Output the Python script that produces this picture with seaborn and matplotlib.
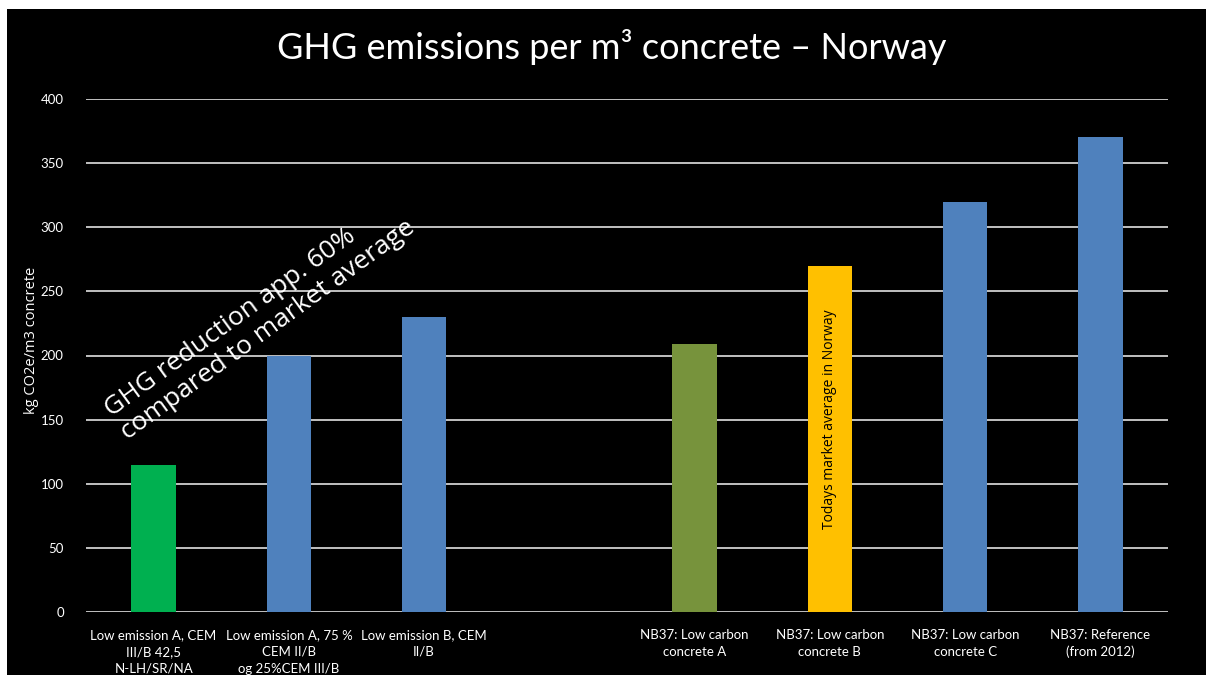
import matplotlib
matplotlib.use("Agg")
import matplotlib.pyplot as plt
from matplotlib.patches import Rectangle
import seaborn as sns
import pandas as pd

# Data
categories = [
    "Low emission A, CEM\nIII/B 42,5\nN-LH/SR/NA",
    "Low emission A, 75 %\nCEM II/B\nog 25%CEM III/B",
    "Low emission B, CEM\nII/B",
    " ",
    "NB37: Low carbon\nconcrete A",
    "NB37: Low carbon\nconcrete B",
    "NB37: Low carbon\nconcrete C",
    "NB37: Reference\n(from 2012)",
]
values = [115, 200, 230, None, 209, 270, 320, 370]
bar_colors = ["#00B050", "#4F81BD", "#4F81BD", "#000000",
              "#77933C", "#FFC000", "#4F81BD", "#4F81BD"]
y_ticks = [0, 50, 100, 150, 200, 250, 300, 350, 400]

df = pd.DataFrame({"category": categories, "value": values})
plotted = df.dropna()

sns.set_style("dark")
plt.rcParams["font.family"] = ["Lato", "DejaVu Sans"]
plt.rcParams["text.color"] = "white"

fig = plt.figure(figsize=(12.06, 6.75), dpi=100, facecolor="white")
# Black slide background with thin white margin at top and left
fig.patches.append(Rectangle((7 / 1206, 0), 1, 1 - 9 / 675,
                             transform=fig.transFigure, facecolor="black",
                             edgecolor="none", zorder=-10))

ax = fig.add_axes([86 / 1206, 1 - 612 / 675, (1168 - 86) / 1206, (612 - 99) / 675])
ax.set_facecolor("black")

palette = dict(zip(categories, bar_colors))
sns.barplot(data=plotted, x="category", y="value", hue="category",
            order=categories, palette=palette, width=0.33, saturation=1,
            linewidth=0, edgecolor="none",
            legend=False, ax=ax, zorder=3)

ax.set_ylim(0, 400)
ax.set_xlim(-0.5, len(categories) - 0.5)
ax.set_yticks(y_ticks)
ax.yaxis.grid(True, color="#D0D0D0", linewidth=1.3, zorder=0)
ax.xaxis.grid(False)
for s in ax.spines.values():
    s.set_visible(False)

ax.tick_params(axis="y", length=0, pad=16, labelsize=9.5, labelcolor="white")
ax.tick_params(axis="x", length=0, pad=12, labelsize=9.5, labelcolor="white")
for lbl in ax.get_xticklabels():
    lbl.set_linespacing(1.5)
    lbl.set_verticalalignment("top")

ax.set_xlabel("")
ax.set_ylabel("kg CO2e/m3 concrete", color="white", fontsize=10.5,
              family=["Open Sans", "DejaVu Sans"])
ax.yaxis.set_label_coords(-0.043, 0.53)

fig.text(612 / 1206, 1 - 47 / 675, "GHG emissions per m³ concrete – Norway",
         ha="center", va="center", color="white", fontsize=26)

# Annotation for low-emission group
ax.text(0.787, 229, "GHG reduction app. 60%\ncompared to market average",
        rotation=36, rotation_mode="anchor", ha="center", va="center",
        multialignment="left", linespacing=1.15,
        color="white", fontsize=19, family=["Open Sans", "DejaVu Sans"],
        zorder=5)

# Label inside market-average bar
ax.text(5, 150, "Todays market average in Norway", rotation=90,
        ha="center", va="center", color="black", fontsize=10,
        family=["Open Sans", "DejaVu Sans"], zorder=5)

fig.savefig("out.png", dpi=100, facecolor="white")
